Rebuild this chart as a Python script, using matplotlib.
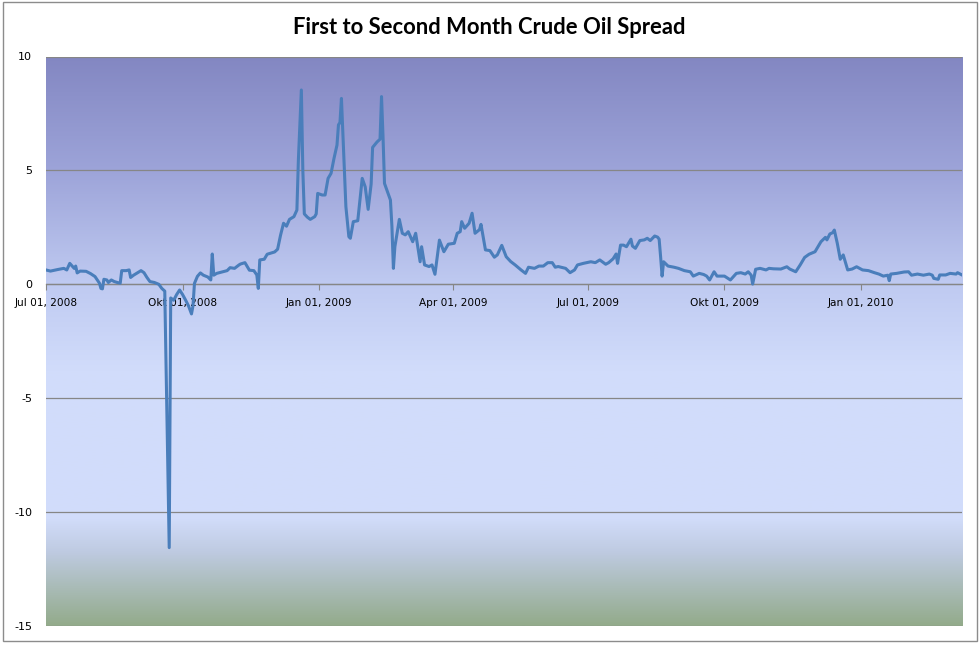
import numpy as np
import pandas as pd
import matplotlib
matplotlib.use("Agg")
import matplotlib.pyplot as plt
from matplotlib.colors import LinearSegmentedColormap
from matplotlib.patches import Rectangle

# ------------------------------------------------------------
# Data: spread between first and second month crude contracts
# (days counted from Jul 01, 2008)
# ------------------------------------------------------------
start_date = pd.Timestamp("2008-07-01")
end_date = pd.Timestamp("2010-03-10")

day_offset = [
    0, 3, 8, 12, 14, 16, 19, 20, 21, 23,
    27, 30, 33, 36, 37, 38, 39, 41, 42, 44,
    46, 48, 50, 51, 54, 56, 57, 59, 64, 66,
    68, 70, 73, 76, 78, 80, 83, 84, 86, 88,
    90, 92, 94, 96, 98, 99, 100, 102, 104, 106,
    109, 111, 112, 113, 115, 119, 122, 124, 127, 130,
    131, 134, 137, 140, 142, 143, 144, 147, 149, 154,
    156, 158, 160, 162, 164, 167, 169, 170, 172, 173,
    174, 176, 178, 181, 182, 183, 186, 188, 190, 192,
    194, 196, 197, 198, 199, 201, 202, 204, 205, 207,
    210, 211, 213, 215, 217, 219, 220, 223, 225, 226,
    227, 228, 230, 232, 233, 234, 235, 238, 240, 242,
    244, 247, 249, 252, 253, 255, 258, 260, 262, 265,
    268, 271, 275, 277, 279, 280, 282, 285, 287, 289,
    292, 293, 296, 299, 302, 304, 307, 310, 313, 316,
    320, 323, 325, 329, 332, 335, 338, 341, 343, 345,
    350, 353, 356, 358, 362, 367, 370, 373, 377, 379,
    382, 384, 385, 387, 389, 391, 394, 395, 397, 400,
    403, 405, 407, 410, 412, 413, 414, 415, 416, 419,
    423, 426, 430, 434, 436, 440, 443, 445, 447, 450,
    452, 457, 461, 465, 468, 471, 473, 475, 476, 478,
    481, 485, 487, 490, 495, 499, 501, 505, 508, 511,
    514, 518, 520, 522, 525, 526, 528, 530, 531, 533,
    535, 537, 540, 543, 546, 550, 554, 558, 561, 564,
    567, 568, 569, 573, 578, 581, 583, 587, 591, 595,
    597, 598, 601, 602, 606, 609, 613, 614, 617,
]

spread = [
    0.63, 0.58, 0.65, 0.70, 0.63, 0.92, 0.70, 0.80, 0.50, 0.58,
    0.57, 0.47, 0.34, 0.05, -0.18, -0.20, 0.22, 0.19, 0.08, 0.19,
    0.12, 0.08, 0.05, 0.60, 0.60, 0.63, 0.30, 0.40, 0.60, 0.51,
    0.30, 0.12, 0.08, 0.00, -0.18, -0.30, -11.56, -0.60, -0.70, -0.45,
    -0.25, -0.45, -0.69, -0.95, -1.30, -0.95, 0.04, 0.35, 0.50, 0.40,
    0.32, 0.19, 1.33, 0.40, 0.48, 0.55, 0.60, 0.73, 0.70, 0.85,
    0.89, 0.95, 0.62, 0.60, 0.41, -0.18, 1.07, 1.10, 1.32, 1.42,
    1.54, 2.16, 2.68, 2.55, 2.85, 2.97, 3.26, 5.46, 8.53, 5.00,
    3.09, 2.95, 2.85, 2.97, 3.09, 3.99, 3.92, 3.92, 4.65, 4.87,
    5.53, 6.11, 7.00, 7.10, 8.16, 5.02, 3.41, 2.09, 2.02, 2.75,
    2.79, 3.40, 4.65, 4.28, 3.29, 4.40, 6.01, 6.25, 6.37, 8.24,
    6.50, 4.43, 4.07, 3.70, 2.55, 0.70, 1.65, 2.85, 2.24, 2.17,
    2.31, 1.87, 2.24, 0.99, 1.65, 0.85, 0.78, 0.85, 0.44, 1.94,
    1.43, 1.76, 1.80, 2.24, 2.31, 2.75, 2.46, 2.68, 3.12, 2.24,
    2.40, 2.63, 1.51, 1.48, 1.19, 1.29, 1.71, 1.21, 1.00, 0.85,
    0.63, 0.48, 0.75, 0.70, 0.80, 0.80, 0.95, 0.95, 0.75, 0.78,
    0.70, 0.51, 0.63, 0.85, 0.92, 0.99, 0.95, 1.07, 0.88, 0.95,
    1.12, 1.33, 0.92, 1.72, 1.72, 1.65, 1.98, 1.68, 1.58, 1.92,
    1.95, 2.02, 1.92, 2.12, 2.07, 1.98, 1.20, 0.36, 0.99, 0.80,
    0.75, 0.70, 0.60, 0.55, 0.36, 0.48, 0.43, 0.36, 0.19, 0.55,
    0.36, 0.36, 0.19, 0.48, 0.51, 0.45, 0.55, 0.40, 0.01, 0.66,
    0.70, 0.63, 0.70, 0.68, 0.67, 0.77, 0.67, 0.55, 0.85, 1.18,
    1.32, 1.43, 1.65, 1.87, 2.06, 1.95, 2.21, 2.27, 2.38, 1.80,
    1.10, 1.29, 0.63, 0.67, 0.77, 0.63, 0.60, 0.51, 0.45, 0.36,
    0.40, 0.16, 0.45, 0.48, 0.54, 0.55, 0.40, 0.45, 0.40, 0.45,
    0.40, 0.26, 0.22, 0.41, 0.41, 0.48, 0.45, 0.51, 0.41,
]

tick_dates = ["2008-07-01", "2008-10-01", "2009-01-01", "2009-04-01",
              "2009-07-01", "2009-10-01", "2010-01-01"]
tick_labels = ["Jul 01, 2008", "Okt 01, 2008", "Jan 01, 2009", "Apr 01, 2009",
               "Jul 01, 2009", "Okt 01, 2009", "Jan 01, 2010"]
y_ticks = [-15, -10, -5, 0, 5, 10]

dates = start_date + pd.to_timedelta(day_offset, unit="D")

# ------------------------------------------------------------
# Figure
# ------------------------------------------------------------
fig = plt.figure(figsize=(9.8, 6.46), dpi=100)
fig.patch.set_facecolor("white")
fig.patches.append(Rectangle((0.003, 0.007), 0.994, 0.99, transform=fig.transFigure,
                             fill=False, edgecolor="#8c8c8c", linewidth=1.0))

ax = fig.add_axes([46 / 980, 20 / 646, 916 / 980, 569.5 / 646])

# gradient plot area (top purple-blue -> light blue -> greenish bottom)
bg_cmap = LinearSegmentedColormap.from_list("bg", [
    (0.00, "#8387c2"),
    (0.20, "#9da4d9"),
    (0.40, "#bfcaf1"),
    (0.55, "#d1dcfb"),
    (0.81, "#d2ddfb"),
    (0.87, "#bfcbe2"),
    (1.00, "#93ab8b"),
])
grad = np.linspace(0, 1, 256).reshape(-1, 1)
ax.imshow(grad, cmap=bg_cmap, aspect="auto", extent=[0, 1, 0, 1],
          transform=ax.transAxes, zorder=0)

ax.set_ylim(-15, 10)
ax.set_xlim(start_date, end_date)
ax.set_yticks(y_ticks)
ax.set_yticklabels([str(v) for v in y_ticks])
ax.yaxis.grid(True, color="#868686", linewidth=0.9, zorder=1)
ax.set_axisbelow(True)

for side in ["top", "right", "left"]:
    ax.spines[side].set_visible(False)
ax.spines["bottom"].set_position(("data", 0))
ax.spines["bottom"].set_color("#868686")
ax.spines["bottom"].set_linewidth(0.9)
ax.spines["bottom"].set_zorder(2)

ax.set_xticks(pd.to_datetime(tick_dates))
ax.set_xticklabels(tick_labels)
ax.tick_params(axis="x", direction="out", length=4, color="#868686", pad=6,
               labelsize=7.6, labelcolor="black")
ax.tick_params(axis="y", length=0, pad=10, labelsize=8, labelcolor="black")
for lbl in ax.get_xticklabels() + ax.get_yticklabels():
    lbl.set_family("DejaVu Sans")

ax.plot(dates, spread, color="#4a7ebb", linewidth=2.2, solid_joinstyle="round", zorder=3)

fig.text(0.499, 0.958, "First to Second Month Crude Oil Spread", ha="center", va="center",
         fontsize=15.8, fontweight="bold", family="Lato", color="black")

fig.savefig("out.png", dpi=100, facecolor="white")
